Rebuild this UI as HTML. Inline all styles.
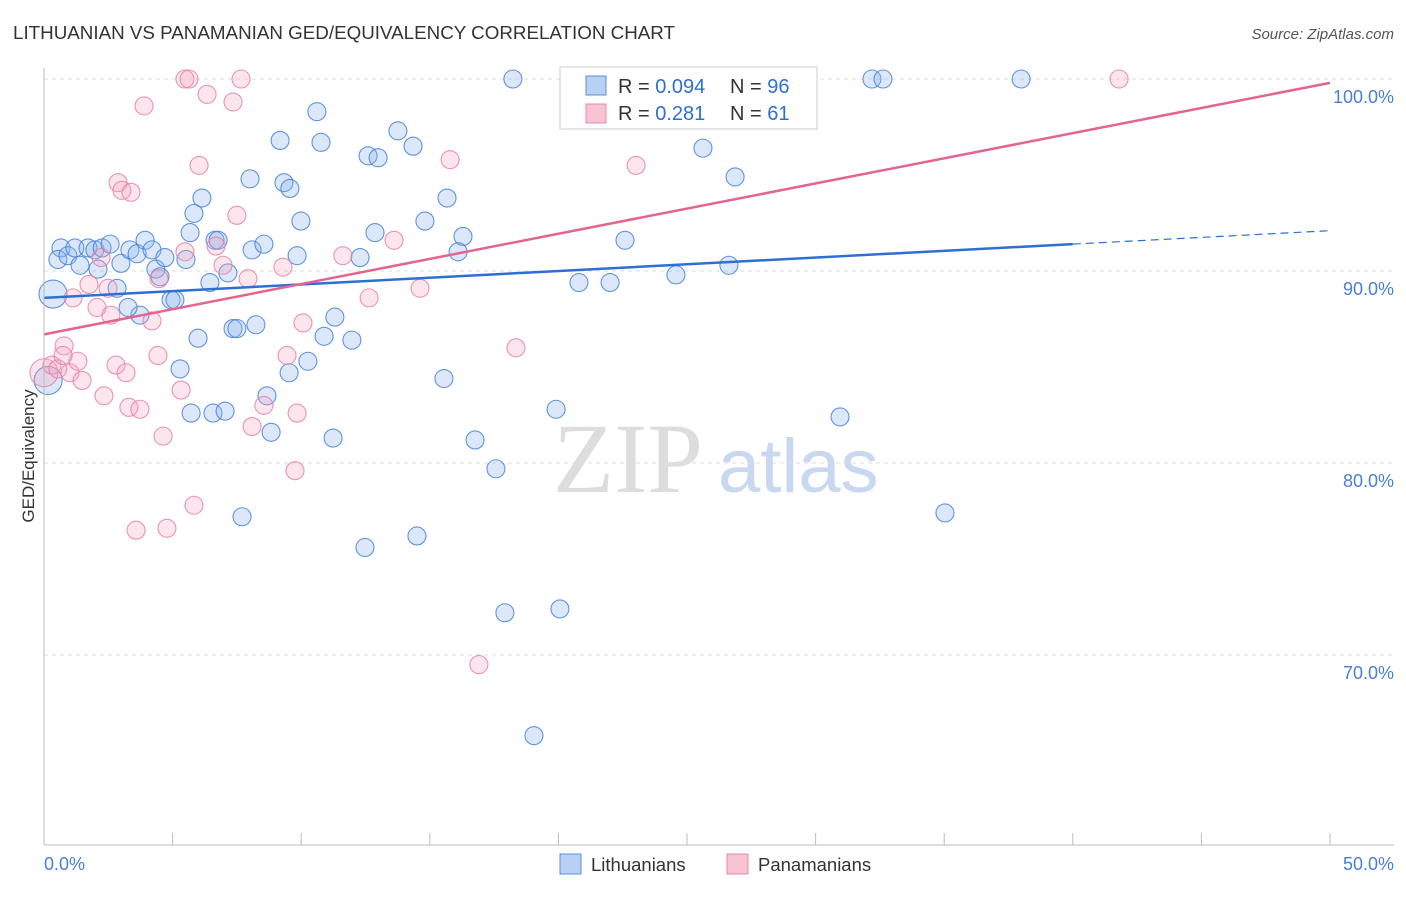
<!DOCTYPE html>
<html><head><meta charset="utf-8"><style>
body{margin:0;background:#fff;font-family:"Liberation Sans",sans-serif;}
</style></head><body>
<svg width="1406" height="892" xmlns="http://www.w3.org/2000/svg" id="chart">
<text x="13" y="39" font-size="18.8" fill="#333">LITHUANIAN VS PANAMANIAN GED/EQUIVALENCY CORRELATION CHART</text>
<text x="1394" y="39" font-size="15" fill="#555" font-style="italic" text-anchor="end">Source: ZipAtlas.com</text>
<text transform="translate(34,456) rotate(-90)" font-size="17" fill="#333" text-anchor="middle">GED/Equivalency</text>
<text x="553" y="492" font-size="100" fill="#ddd" font-family="Liberation Serif,serif">ZIP</text>
<text x="718" y="492" font-size="76" fill="#c8d8f0">atlas</text>
<g id="grid"></g><g id="marks"></g>
<line x1="44" y1="68" x2="44" y2="845" stroke="#bbb"/>
<line x1="44" y1="845" x2="1394" y2="845" stroke="#bbb"/>
<text x="44" y="870" font-size="18" fill="#4a7fd4">0.0%</text>
<text x="1394" y="870" font-size="18" fill="#4a7fd4" text-anchor="end">50.0%</text>
<g>
<rect x="560" y="67" width="257" height="62" fill="#fff" stroke="#ccc"/>
<rect x="586" y="76" width="20" height="19" fill="#b8d0f4" stroke="#5a8fd8"/>
<rect x="586" y="104" width="20" height="19" fill="#f8c4d4" stroke="#e88aa8"/>
<text x="618" y="93" font-size="20" fill="#333">R = <tspan fill="#2d6fd2">0.094</tspan></text>
<text x="730" y="93" font-size="20" fill="#333">N = <tspan fill="#2d6fd2">96</tspan></text>
<text x="618" y="120" font-size="20" fill="#333">R = <tspan fill="#2d6fd2"> 0.281</tspan></text>
<text x="730" y="120" font-size="20" fill="#333">N = <tspan fill="#2d6fd2">61</tspan></text>
</g>
<g>
<rect x="560" y="854" width="21" height="20" fill="#b8d0f4" stroke="#5a8fd8"/>
<text x="591" y="871" font-size="18.5" fill="#333">Lithuanians</text>
<rect x="727" y="854" width="21" height="20" fill="#f8c4d4" stroke="#e88aa8"/>
<text x="758" y="871" font-size="18.5" fill="#333">Panamanians</text>
</g>
</svg>
<script>
const yTicks=[100,90,80,70];
const yTickLabels=["100.0%","90.0%","80.0%","70.0%"];
const xTicks=[0,5,10,15,20,25,30,35,40,45,50];
const blueX=[0.35,0.16,0.66,0.54,0.93,1.2,1.4,1.71,1.98,2.26,2.57,2.1,2.99,3.34,3.62,3.93,4.2,4.35,4.7,4.51,4.94,5.09,5.52,5.68,5.83,6.14,6.65,6.45,6.77,7.15,7.35,7.5,8.24,8.01,8.09,8.55,9.18,9.33,9.56,9.84,9.99,10.61,10.77,11.31,10.89,10.26,9.53,8.67,11.97,12.29,12.6,12.99,12.87,13.76,14.35,14.81,15.67,16.29,16.1,18.23,5.99,5.29,3.73,3.27,2.84,5.72,6.57,7.04,8.83,11.24,12.48,14.5,7.7,15.55,16.76,17.57,17.92,20.06,19.05,19.91,20.8,22.01,22.59,24.57,25.62,26.63,26.87,30.95,32.19,32.62,35.03,37.99,22.71,23.64];
const blueY=[88.8,84.3,91.2,90.6,90.8,91.2,90.3,91.2,91.1,91.2,91.4,90.1,90.4,91.1,90.9,91.6,91.1,90.1,90.7,89.7,88.5,88.5,90.6,92.0,93.0,93.8,91.6,89.4,91.6,89.9,87.0,87.0,87.2,94.8,91.1,91.4,96.8,94.6,94.3,90.8,92.6,98.3,96.7,87.6,86.6,85.3,84.7,83.5,86.4,90.7,96.0,95.9,92.0,97.3,96.5,92.6,93.8,91.8,91.0,100,86.5,84.9,87.7,88.1,89.1,82.6,82.6,82.7,81.6,81.3,75.6,76.2,77.2,84.4,81.2,79.7,72.2,72.4,65.8,82.8,89.4,89.4,91.6,89.8,96.4,90.3,94.9,82.4,100,100,77.4,100,100,100];
const pinkX=[0,0.31,0.54,0.78,1.01,1.32,1.48,0.74,1.13,1.75,2.06,2.22,2.33,2.49,2.6,2.8,2.88,3.03,3.19,3.38,3.3,3.73,3.89,4.2,4.43,4.47,4.63,3.58,4.78,5.33,5.48,5.48,5.64,5.83,6.03,6.34,6.69,6.96,7.35,7.5,7.66,7.93,8.09,8.55,9.29,9.45,9.76,9.84,10.07,11.62,12.64,13.61,14.62,15.79,16.91,18.35,21.5,23.02,41.8];
const pinkY=[84.7,85.1,84.9,86.1,84.7,85.3,84.3,85.6,88.6,89.3,88.1,90.7,83.5,89.1,87.7,85.1,94.6,94.2,84.7,94.1,82.9,82.8,98.6,87.4,85.6,89.6,81.4,76.5,76.6,83.8,91.0,100,100,77.8,95.5,99.2,91.3,90.3,98.8,92.9,100,89.6,81.9,83.0,90.2,85.6,79.6,82.6,87.3,90.8,88.6,91.6,89.1,95.8,69.5,86.0,98.0,95.5,100];
const blueTrend=[88.6,91.4,92.1]; // at x=0,40,50
const pinkTrend=[86.7,99.8]; // at x=0,50
const X=v=>44+v*25.72, Y=v=>79+(100-v)*19.2;
const NS="http://www.w3.org/2000/svg";
const grid=document.getElementById('grid'), marks=document.getElementById('marks'), svg=document.getElementById('chart');
function mk(tag,attrs,parent){const e=document.createElementNS(NS,tag);for(const k in attrs)e.setAttribute(k,attrs[k]);parent.appendChild(e);return e;}
yTicks.forEach((t,i)=>{
 const l=mk('line',{x1:44,x2:1394,y1:Y(t),y2:Y(t),stroke:'#ddd','stroke-dasharray':'4,4'},grid);
 
 
 const tx=mk('text',{x:1394,y:Y(t)+24,'font-size':18,fill:'#4a7fd4','text-anchor':'end'},svg);
 tx.textContent=yTickLabels[i];
 
 
});
xTicks.forEach(t=>{
 const l=mk('line',{x1:X(t),x2:X(t),y1:833,y2:845,stroke:'#bbb'},grid);
 
 
});
function pts(xs,ys,fill,stroke,name){
 xs.forEach((x,i)=>{
  const big=(i<2&&name==='lithuanian-point')||(i===0&&name==='panamanian-point');
  const c=mk('circle',{cx:X(x),cy:Y(ys[i]),r:big?14:9,fill:fill,stroke:stroke,'stroke-width':1.1},marks);
  
  
 });
}
pts(blueX,blueY,'rgba(140,180,240,0.3)','rgba(70,130,215,0.85)','lithuanian-point');
pts(pinkX,pinkY,'rgba(245,160,190,0.28)','rgba(230,130,165,0.85)','panamanian-point');
const bl=mk('line',{x1:X(0),y1:Y(blueTrend[0]),x2:X(40),y2:Y(blueTrend[1]),stroke:'#2d6fd2','stroke-width':2.5},marks);


const bd=mk('line',{x1:X(40),y1:Y(blueTrend[1]),x2:X(50),y2:Y(blueTrend[2]),stroke:'#2d6fd2','stroke-width':1.2,'stroke-dasharray':'8,5'},marks);


const pl=mk('line',{x1:X(0),y1:Y(pinkTrend[0]),x2:X(50),y2:Y(pinkTrend[1]),stroke:'#e4648f','stroke-width':2.5},marks);


</script>
</body></html>
